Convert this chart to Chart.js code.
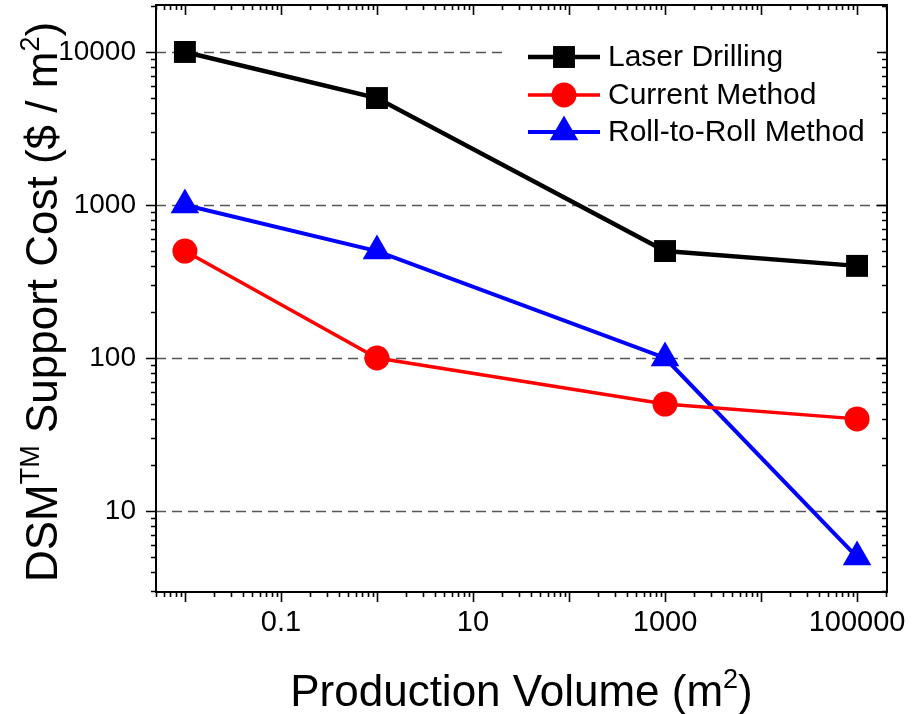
<!DOCTYPE html>
<html>
<head>
<meta charset="utf-8">
<script src="https://cdn.jsdelivr.net/npm/chart.js@4"></script>
<style>
  html, body { margin: 0; padding: 0; background: #fff; }
  #wrap { width: 922px; height: 714px; }
</style>
</head>
<body>
<div id="wrap"><canvas id="myChart" width="922" height="714"></canvas></div>
<script>
// data
var volumes = [0.01, 1, 1000, 100000];
var laserDrilling = [10000, 5000, 500, 400];
var currentMethod = [500, 100, 50, 40];
var rollToRoll = [1000, 500, 100, 5];

var xTickValues = [0.1, 10, 1000, 100000];
var xTickLabels = ['0.1', '10', '1000', '100000'];
var yTickValues = [10, 100, 1000, 10000];
var yTickLabels = ['10', '100', '1000', '10000'];

var FONT = '"Liberation Sans", Arial, sans-serif';

function points(values) {
    return volumes.map(function (v, i) { return { x: v, y: values[i] }; });
}

function drawMarker(ctx, style, r, x, y, color) {
    ctx.save();
    ctx.fillStyle = color;
    ctx.beginPath();
    if (style === 'rect') {
        var s = Math.SQRT1_2 * r;
        ctx.rect(x - s, y - s, 2 * s, 2 * s);
    } else if (style === 'circle') {
        ctx.arc(x, y, r, 0, Math.PI * 2);
    } else {
        ctx.moveTo(x, y - r);
        ctx.lineTo(x + Math.sin(2 * Math.PI / 3) * r, y - Math.cos(2 * Math.PI / 3) * r);
        ctx.lineTo(x + Math.sin(4 * Math.PI / 3) * r, y - Math.cos(4 * Math.PI / 3) * r);
        ctx.closePath();
    }
    ctx.fill();
    ctx.restore();
}

// text with superscript pieces: parts = [[text, isSup], ...]
function drawRich(ctx, parts, size, align) {
    var supSize = Math.round(size * 0.62);
    var total = 0;
    parts.forEach(function (p) {
        ctx.font = (p[1] ? supSize : size) + 'px ' + FONT;
        total += ctx.measureText(p[0]).width;
    });
    var x = align === 'center' ? -total / 2 : 0;
    ctx.textBaseline = 'alphabetic';
    ctx.textAlign = 'left';
    parts.forEach(function (p) {
        ctx.font = (p[1] ? supSize : size) + 'px ' + FONT;
        ctx.fillText(p[0], x, p[1] ? -size * 0.42 : 0);
        x += ctx.measureText(p[0]).width;
    });
}

var framePlugin = {
    id: 'frame',
    beforeDatasetsDraw: function (chart) {
        var ctx = chart.ctx, a = chart.chartArea, ys = chart.scales.y;
        ctx.save();
        ctx.strokeStyle = '#555';
        ctx.lineWidth = 1.3;
        ctx.setLineDash([10, 6]);
        yTickValues.forEach(function (v) {
            var py = Math.round(ys.getPixelForValue(v)) + 0.5;
            ctx.beginPath();
            ctx.moveTo(a.left, py);
            ctx.lineTo(a.right, py);
            ctx.stroke();
        });
        ctx.restore();
    },
    afterDatasetsDraw: function (chart) {
        var ctx = chart.ctx;
        // legend box
        ctx.save();
        ctx.fillStyle = '#fff';
        ctx.fillRect(503, 30, 380, 122);
        var rowY = [57, 95, 132];
        chart.data.datasets.forEach(function (ds, i) {
            var y = rowY[i];
            ctx.strokeStyle = ds.borderColor;
            ctx.lineWidth = ds.borderWidth;
            ctx.beginPath();
            ctx.moveTo(528, y);
            ctx.lineTo(600, y);
            ctx.stroke();
            drawMarker(ctx, ds.pointStyle, ds.pointRadius, 564, y, ds.backgroundColor);
            ctx.fillStyle = '#000';
            ctx.font = '30px ' + FONT;
            ctx.textAlign = 'left';
            ctx.textBaseline = 'middle';
            ctx.fillText(ds.label, 608, y + 1);
        });
        ctx.restore();
    },
    afterDraw: function (chart) {
        var ctx = chart.ctx, a = chart.chartArea;
        var xs = chart.scales.x, ys = chart.scales.y;
        ctx.save();
        ctx.strokeStyle = '#000';
        ctx.lineWidth = 2;
        ctx.strokeRect(a.left, a.top, a.right - a.left, a.bottom - a.top);

        ctx.lineWidth = 1.6;
        function logTicks(min, max, fn) {
            for (var e = Math.floor(Math.log10(min)); e <= Math.ceil(Math.log10(max)); e++) {
                for (var m = 1; m <= 9; m++) {
                    var v = m * Math.pow(10, e);
                    if (v >= min * 0.999 && v <= max * 1.001) fn(v, m === 1);
                }
            }
        }
        ctx.beginPath();
        logTicks(xs.min, xs.max, function (v, major) {
            var px = Math.round(xs.getPixelForValue(v)) + 0.5;
            var len = major ? 10 : 5;
            ctx.moveTo(px, a.bottom);
            ctx.lineTo(px, a.bottom + len);
            ctx.moveTo(px, a.top);
            ctx.lineTo(px, a.top + len);
        });
        logTicks(ys.min, ys.max, function (v, major) {
            var py = Math.round(ys.getPixelForValue(v)) + 0.5;
            var len = major ? 10 : 5;
            ctx.moveTo(a.left, py);
            ctx.lineTo(a.left - len, py);
            ctx.moveTo(a.right, py);
            ctx.lineTo(a.right - len, py);
        });
        ctx.stroke();

        // axis titles
        ctx.fillStyle = '#000';
        ctx.save();
        ctx.translate((a.left + a.right) / 2, 706);
        drawRich(ctx, [['Production Volume (m', false], ['2', true], [')', false]], 44, 'center');
        ctx.restore();

        ctx.save();
        ctx.translate(57, 302);
        ctx.rotate(-Math.PI / 2);
        drawRich(ctx, [['DSM', false], ['TM', true], [' Support Cost ($ / m', false], ['2', true], [')', false]], 44, 'center');
        ctx.restore();
        ctx.restore();
    }
};

var data = {
    datasets: [{
        label: 'Laser Drilling',
        data: points(laserDrilling),
        borderColor: '#000000',
        backgroundColor: '#000000',
        borderWidth: 4.5,
        pointStyle: 'rect',
        pointRadius: 15.5,
        pointBorderWidth: 0
    }, {
        label: 'Current Method',
        data: points(currentMethod),
        borderColor: '#ff0000',
        backgroundColor: '#ff0000',
        borderWidth: 3.5,
        pointStyle: 'circle',
        pointRadius: 12.5,
        pointBorderWidth: 0
    }, {
        label: 'Roll-to-Roll Method',
        data: points(rollToRoll),
        borderColor: '#0000ff',
        backgroundColor: '#0000ff',
        borderWidth: 4,
        pointStyle: 'triangle',
        pointRadius: 16.5,
        pointBorderWidth: 0
    }]
};

var options = {
    responsive: false,
    animation: false,
    layout: { autoPadding: false, padding: { top: 5, right: 35, left: 0, bottom: 0 } },
    plugins: { legend: { display: false }, tooltip: { enabled: false } },
    scales: {
        x: {
            type: 'logarithmic',
            bounds: 'data',
            min: 0.005,
            max: 205000,
            grid: { display: false, drawTicks: false },
            border: { display: false },
            afterBuildTicks: function (s) { s.ticks = xTickValues.map(function (v) { return { value: v }; }); },
            afterFit: function (s) { s.height = 122; s.paddingLeft = 0; s.paddingRight = 0; },
            ticks: {
                autoSkip: false,
                maxRotation: 0,
                padding: 14,
                color: '#000',
                font: { family: FONT, size: 29 },
                callback: function (value, index) { return xTickLabels[index]; }
            }
        },
        y: {
            type: 'logarithmic',
            bounds: 'data',
            min: 2.955,
            max: 20280,
            grid: { display: false, drawTicks: false },
            border: { display: false },
            afterBuildTicks: function (s) { s.ticks = yTickValues.map(function (v) { return { value: v }; }); },
            afterFit: function (s) { s.width = 156; s.paddingTop = 0; s.paddingBottom = 0; },
            ticks: {
                autoSkip: false,
                padding: 20,
                color: '#000',
                font: { family: FONT, size: 28 },
                callback: function (value, index) { return yTickLabels[index]; }
            }
        }
    }
};

var ctx = document.getElementById('myChart').getContext('2d');
var myChart = new Chart(ctx, {
    type: 'line',
    data: data,
    options: options,
    plugins: [framePlugin]
});
</script>
</body>
</html>
